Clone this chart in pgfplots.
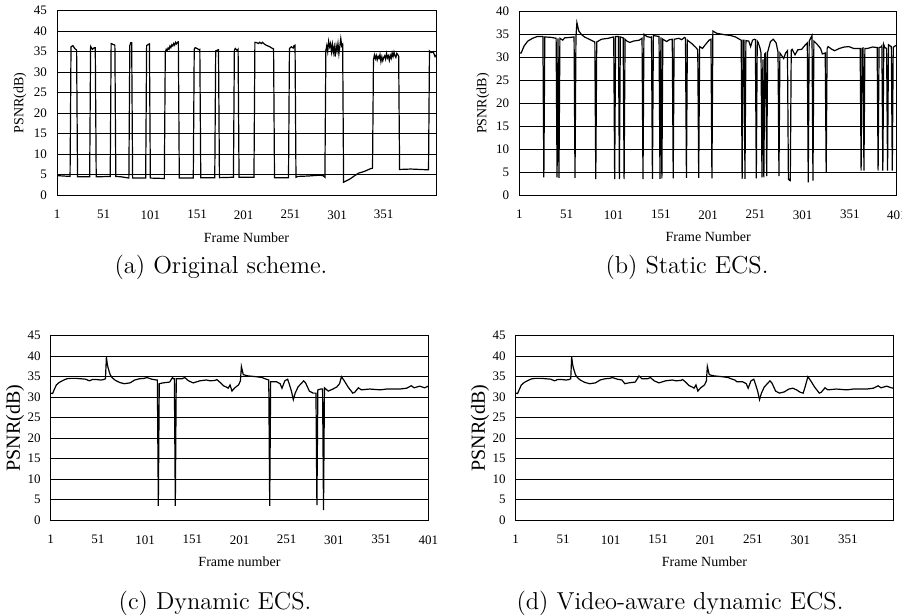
\documentclass[border=0pt]{standalone}
\usepackage{pgfplots}
\pgfplotsset{compat=1.18}
\usepackage{fontspec}
\newfontfamily\tnr{Liberation Serif}

\pgfplotsset{
  psnr/.style={
    scale only axis,
    width=188.8pt, height=92.3pt,
    xmin=1, ymin=0,
    ymajorgrids,
    grid style={black, line width=0.45pt},
    axis line style={black, line width=0.5pt},
    major tick length=0pt,
    tick label style={font=\tnr\fontsize{6.5}{7}\selectfont},
    /pgf/number format/assume math mode=true,
    xticklabel style={yshift=-4pt},
    yticklabel style={xshift=-1.5pt},
    ylabel={PSNR(dB)},
    label style={font=\tnr\fontsize{7}{8}\selectfont},
  },
  psnrline/.style={black, line width=0.6pt, no markers},
}

\begin{document}
\begin{tikzpicture}
\path[use as bounding box] (0,0) rectangle (451pt,-308pt);

% (a) original scheme
\begin{axis}[psnr, at={(28.5pt,-97.65pt)}, anchor=south west,
  width=189.5pt, xmax=407, ymax=45, ytick={0,5,...,45},
  xtick={1,51,101,151,201,251,301,351},
  xlabel={Frame Number},
  xlabel style={at={(axis description cs:0.5,-0.231)}, anchor=center},
  ylabel style={at={(axis description cs:-0.0976,0.5)}, anchor=center}]
\addplot[psnrline] coordinates {
(1,4.8)(15,4.6)(16,36.2)(18,36.5)(20,35.8)(22,35.4)(23,4.5)(36,4.5)(37,36.3)(39,35.6)(41,36.0)(42,36.0)(43,4.5)
(58,4.6)(59,37.0)(61,36.8)(63,36.6)(64,4.6)(70,4.5)(78,4.2)(79,36.5)(80,37.2)(81,37.2)(82,4.2)
(96,4.2)(97,36.5)(99,36.8)(100,36.9)(101,4.2)(116,4.1)(117,34.8)(118,35.6)(119,35.3)(120,35.9)(121,35.6)
(122,36.4)(123,36.0)(124,36.7)(125,36.4)(126,37.0)(127,36.6)(128,37.3)(129,36.9)(130,37.3)(131,37.4)(132,4.2)
(147,4.2)(148,35.6)(149,36.0)(151,35.8)(153,35.5)(154,35.6)(155,4.3)(170,4.3)(171,35.2)(172,35.3)(174,35.5)(175,4.3)
(190,4.4)(191,35.4)(192,35.8)(194,35.3)(195,35.6)(196,4.4)(212,4.4)(213,37.3)(215,37.2)(217,37.0)(218,37.3)
(220,37.0)(221,37.3)(223,36.9)(225,36.6)(227,36.4)(229,36.2)(231,35.9)(233,35.7)(234,4.3)(249,4.3)(250,35.8)
(252,36.2)(254,35.9)(255,36.5)(256,36.6)(257,4.4)(259,4.6)(270,4.7)(282,4.9)(286,4.8)(288,4.4)(289,35.3)
(290,36.5)(291,35.0)(292,37.5)(293,36.2)(294,37.0)(295,35.0)(296,36.8)(297,34.8)(298,36.2)(299,33.8)(300,36.5)
(301,35.2)(302,37.0)(303,34.5)(305,38.2)(306,36.4)(307,36.8)(308,3.2)(315,4.0)(320,4.8)(324,5.4)(330,5.8)
(337,6.5)(339,6.6)(340,33.0)(341,34.2)(342,33.3)(343,34.1)(344,33.0)(345,33.9)(346,33.4)(347,34.3)(348,32.6)
(349,33.8)(350,32.8)(351,33.6)(352,34.0)(353,33.2)(354,34.6)(355,33.5)(356,34.0)(357,32.9)(358,34.1)(359,33.4)
(360,34.7)(361,33.8)(362,34.9)(363,34.0)(364,33.6)(365,34.6)(366,34.3)(367,33.9)(368,6.3)(380,6.4)(390,6.3)
(399,6.2)(400,35.2)(402,34.8)(404,35.0)(406,33.8)(407,34.2)
};
\end{axis}

% (b) static ECS
\begin{axis}[psnr, at={(259.65pt,-97.65pt)}, anchor=south west,
  width=188.85pt, height=91.8pt, xmax=401, ymax=40, ytick={0,5,...,40},
  xtick={1,51,101,151,201,251,301,351,401},
  xlabel={Frame Number},
  xlabel style={at={(axis description cs:0.5,-0.228)}, anchor=center},
  ylabel style={at={(axis description cs:-0.096,0.5)}, anchor=center}]
\addplot[psnrline] coordinates {
(1,31.0)(3,31.0)(6,32.5)(10,33.6)(15,34.2)(20,34.6)(26,34.6)(27,3.9)(28,34.5)(35,34.4)(40,34.2)(41,3.9)(42,34.2)
(43,3.8)(44,34.2)(47,33.8)(49,34.3)(55,34.4)(59,34.5)(60,3.8)(61,34.5)(62,37.6)(64,35.8)(67,35.0)(70,34.5)
(75,34.0)(80,33.5)(81,33.4)(82,3.5)(83,33.4)(88,34.0)(95,34.2)(101,34.5)(102,3.5)(103,34.6)(106,34.6)(107,3.5)
(108,34.5)(111,34.3)(112,3.5)(113,34.0)(115,33.6)(118,33.3)(122,33.6)(128,33.8)(131,34.2)(132,3.5)(133,35.1)
(136,34.6)(140,34.4)(141,34.5)(142,3.6)(143,34.8)(149,34.6)(150,3.6)(151,34.4)(152,3.7)(153,34.0)(157,33.5)
(160,33.9)(163,34.0)(164,3.7)(165,34.0)(170,34.2)(173,33.9)(176,34.4)(177,34.2)(178,3.8)(179,33.8)(184,33.0)
(188,32.2)(190,31.7)(191,3.8)(192,32.4)(195,32.0)(198,32.8)(202,33.8)(204,34.0)(205,3.7)(206,35.8)(210,35.3)
(218,35.0)(225,34.8)(230,34.5)(235,33.9)(236,33.8)(237,3.6)(238,33.8)(239,33.8)(240,3.6)(241,33.7)(244,33.6)
(246,32.4)(248,33.8)(250,34.0)(251,33.9)(252,3.7)(253,33.6)(254,33.3)(256,32.0)(257,31.0)(258,3.9)(259,29.6)
(260,3.9)(261,30.8)(262,31.0)(263,4.2)(264,31.2)(267,33.5)(270,34.0)(273,33.2)(275,31.2)(276,4.2)(277,31.0)
(281,29.8)(283,31.0)(285,31.5)(286,3.5)(287,3.3)(288,3.2)(289,31.6)(290,31.8)(293,30.6)(296,31.7)(300,31.8)
(304,32.8)(306,33.2)(307,2.8)(308,33.6)(311,34.8)(312,3.2)(313,33.6)(316,33.0)(320,32.0)(322,30.8)(325,31.0)
(326,5.0)(327,32.0)(328,32.4)(332,31.8)(335,31.5)(340,32.0)(345,32.3)(350,32.4)(355,32.0)(360,32.0)(362,32.0)
(363,5.4)(364,32.0)(365,32.1)(366,5.4)(367,32.0)(370,32.0)(375,32.3)(380,32.2)(381,5.4)(382,32.2)(384,32.3)
(385,32.6)(386,5.4)(387,32.8)(388,32.2)(390,32.0)(391,5.4)(392,32.8)(394,32.5)(395,32.4)(396,5.4)(397,32.2)
(398,32.4)(401,32.8)
};
\end{axis}

% (c) dynamic ECS
\begin{axis}[psnr, at={(25.35pt,-260.15pt)}, anchor=south west,
  xmax=401, ymax=45, ytick={0,5,...,45},
  xtick={1,51,101,151,201,251,301,351,401},
  xlabel={Frame number},
  xlabel style={at={(axis description cs:0.5,-0.222)}, anchor=center},
  ylabel style={at={(axis description cs:-0.0945,0.5)}, anchor=center,
    font=\tnr\fontsize{10}{11}\selectfont}]
\addplot[psnrline] coordinates {
(1,31.0)(3,30.9)(5,32.0)(7,33.0)(10,33.6)(14,34.1)(18,34.5)(22,34.6)(28,34.6)(33,34.5)(38,34.4)(42,34.0)
(45,34.3)(50,34.3)(54,34.2)(57,34.3)(59,34.5)(60,39.8)(61,38.0)(62,37.0)(64,35.5)(66,34.8)(69,34.2)(74,33.6)
(79,33.3)(85,33.5)(90,34.2)(95,34.5)(100,34.6)(103,34.8)(108,34.4)(113,34.2)(114,34.2)(115,3.5)(116,33.3)
(120,33.5)(127,33.7)(130,34.8)(131,34.5)(132,34.5)(133,3.5)(134,34.5)(140,34.5)(143,34.8)(147,34.0)(152,33.5)
(159,34.0)(166,34.2)(170,34.0)(175,34.1)(177,34.3)(181,33.5)(184,32.8)(187,32.5)(189,32.2)(191,33.0)(193,31.5)
(196,32.3)(200,33.0)(202,34.0)(203,37.5)(205,35.5)(210,35.2)(219,35.0)(225,34.8)(228,34.5)(232,34.2)(233,3.5)
(234,33.8)(240,33.8)(244,33.3)(246,32.2)(249,34.0)(252,34.4)(254,33.0)(256,31.5)(258,29.4)(260,31.0)(263,32.5)
(267,33.5)(269,34.0)(271,33.5)(275,31.5)(279,31.0)(282,31.0)(283,3.7)(284,31.8)(287,32.0)(289,32.0)(290,2.5)
(291,32.3)(295,31.5)(300,32.0)(304,32.5)(307,33.3)(309,35.0)(312,34.0)(316,32.5)(321,31.0)(323,31.2)(327,32.3)
(330,31.8)(339,32.0)(350,31.8)(357,32.0)(371,32.0)(378,32.2)(383,32.8)(386,32.3)(392,32.7)(397,32.3)(401,32.7)
};
\end{axis}

% (d) video-aware dynamic ECS
\begin{axis}[psnr, at={(257.85pt,-260.15pt)}, anchor=south west,
  xmax=399, ymax=45, ytick={0,5,...,45},
  xtick={1,51,101,151,201,251,301,351},
  xlabel={Frame Number},
  xlabel style={at={(axis description cs:0.5,-0.222)}, anchor=center},
  ylabel style={at={(axis description cs:-0.0945,0.5)}, anchor=center,
    font=\tnr\fontsize{10}{11}\selectfont}]
\addplot[psnrline] coordinates {
(1,31.0)(3,30.9)(5,32.0)(7,33.0)(10,33.6)(14,34.1)(18,34.5)(22,34.6)(28,34.6)(33,34.5)(38,34.4)(42,34.0)
(45,34.3)(50,34.3)(54,34.2)(57,34.3)(59,34.5)(60,39.8)(61,38.0)(62,37.0)(64,35.5)(66,34.8)(69,34.2)(74,33.6)
(79,33.3)(85,33.5)(90,34.2)(95,34.5)(100,34.6)(103,34.8)(108,34.4)(113,34.2)(116,33.3)
(120,33.5)(127,33.7)(130,34.8)(131,35.2)(134,34.5)(140,34.5)(143,34.8)(147,34.0)(152,33.5)
(159,34.0)(166,34.2)(170,34.0)(175,34.1)(177,34.3)(181,33.5)(184,32.8)(187,32.5)(189,32.2)(191,33.0)(193,31.5)
(196,32.3)(200,33.0)(202,34.0)(203,37.5)(205,35.5)(210,35.2)(219,35.0)(225,34.8)(228,34.5)(232,34.2)
(234,33.8)(240,33.8)(244,33.3)(246,32.2)(249,34.0)(252,34.4)(254,33.0)(256,31.5)(258,29.4)(260,31.0)(263,32.5)
(267,33.5)(269,34.0)(271,33.5)(275,31.5)(279,31.0)(284,31.3)(289,32.0)(293,32.2)(297,31.8)(301,31.2)(304,31.0)
(306,32.5)(309,35.0)(312,34.0)(316,32.5)(321,31.0)(323,31.2)(327,32.3)
(330,31.8)(339,32.0)(350,31.8)(357,32.0)(371,32.0)(378,32.2)(383,32.8)(386,32.3)(392,32.7)(397,32.3)(399,32.2)
};
\end{axis}

\node[font=\fontsize{12.25}{14}\selectfont] at (110.5pt,-133.5pt) {(a) Original scheme.};
\node[font=\fontsize{12.25}{14}\selectfont] at (343.5pt,-133.5pt) {(b) Static ECS.};
\node[font=\fontsize{12.25}{14}\selectfont] at (107.5pt,-301.5pt) {(c) Dynamic ECS.};
\node[font=\fontsize{12.25}{14}\selectfont] at (340pt,-301.5pt) {(d) Video-aware dynamic ECS.};
\end{tikzpicture}
\end{document}
